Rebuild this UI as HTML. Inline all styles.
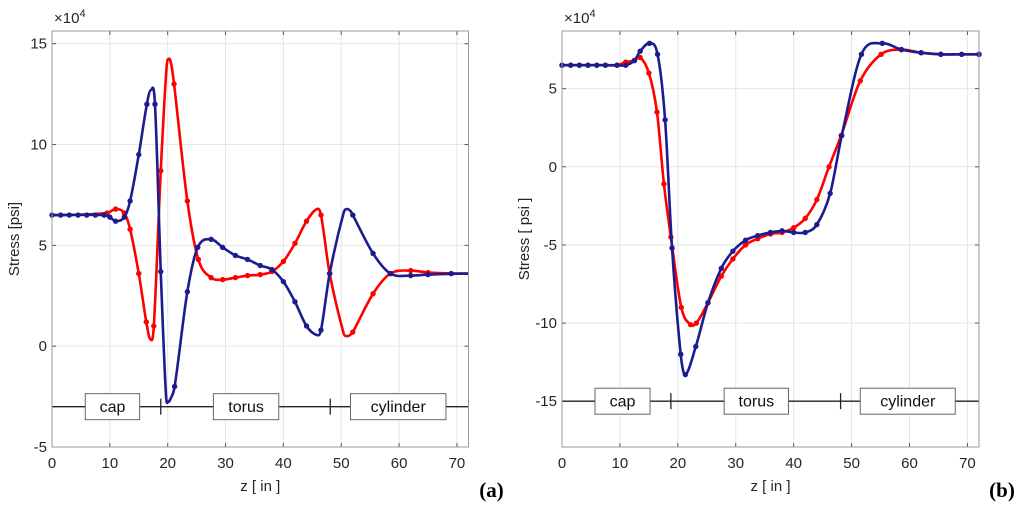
<!DOCTYPE html>
<html><head><meta charset="utf-8"><style>
body{margin:0;background:#fff;width:1024px;height:514px;overflow:hidden}
svg{font-family:"Liberation Sans",sans-serif}
</style></head><body>
<svg id="s" width="1024" height="514"></svg>
<script>
// ---- data (stress ×10^4 psi vs z in) ----
// marker samples
const aBlueX=[0,1.5,3,4.5,6,7.5,9,10,11,12.5,13.5,15,16.4,17.8,18.8,21.2,23.4,25.2,27.5,29.5,31.7,33.8,36,38,40,42,44,46.5,48,52,55.5,58.5,62,65,69];
const aBlueY=[6.5,6.5,6.5,6.5,6.5,6.5,6.5,6.4,6.2,6.4,7.2,9.5,12,12,3.7,-2,2.7,4.9,5.3,4.9,4.5,4.3,4.0,3.8,3.2,2.2,1.0,0.8,3.6,6.5,4.6,3.6,3.5,3.55,3.6];
const aRedX=[9.5,11,12.5,13.5,15,16.3,17.6,18.8,21.1,23.4,25.3,27.5,29.5,31.7,33.8,36,38,40,42,44,46.5,48,52,55.5,58.5,62,65];
const aRedY=[6.6,6.8,6.6,5.8,3.6,1.2,1.0,8.7,13.0,7.2,4.3,3.4,3.3,3.4,3.5,3.55,3.7,4.2,5.1,6.2,6.5,3.6,0.7,2.6,3.6,3.75,3.65];
// curve knots
const aBlueCX=[0,9,10,11,12.5,13.5,15,16.4,17.1,17.8,18.8,19.7,20.1,20.5,21.2,23.4,25.2,27.5,29.5,31.7,33.8,36,38,40,42,44,45.8,46.5,48,50.4,51,51.6,52,55.5,58.5,62,65,72];
const aBlueCY=[6.5,6.5,6.4,6.2,6.4,7.2,9.5,12,12.7,12,3.7,-2.4,-2.75,-2.6,-2,2.7,4.9,5.3,4.9,4.5,4.3,4.0,3.8,3.2,2.2,1.0,0.55,0.8,3.6,6.6,6.8,6.7,6.5,4.6,3.6,3.5,3.55,3.6];
const aRedCX=[0,9.5,11,12.5,13.5,15,16.3,17.0,17.6,18.8,19.8,20.2,20.6,21.1,23.4,25.3,27.5,29.5,31.7,33.8,36,38,40,42,44,45.8,46.5,48,50.4,50.9,51.5,52,55.5,58.5,62,65,72];
const aRedCY=[6.5,6.6,6.8,6.6,5.8,3.6,1.2,0.35,1.0,8.7,13.8,14.25,14.0,13.0,7.2,4.3,3.4,3.3,3.4,3.5,3.55,3.7,4.2,5.1,6.2,6.8,6.5,3.6,0.65,0.5,0.55,0.7,2.6,3.6,3.75,3.65,3.6];
const bBlueX=[0,1.5,3,4.5,6,7.5,9.5,11,12.5,13.5,15.1,16.5,17.8,19,20.5,21.3,23.1,25.2,27.5,29.5,31.7,33.8,36,38,40,42,44,46.3,48.3,51.7,55.3,58.6,62,65.4,69,72];
const bBlueY=[6.5,6.5,6.5,6.5,6.5,6.5,6.5,6.5,6.8,7.4,7.9,7.2,3,-5.2,-12,-13.3,-11.5,-8.7,-6.5,-5.4,-4.7,-4.4,-4.2,-4.1,-4.2,-4.2,-3.7,-1.7,2,7.2,7.9,7.5,7.3,7.2,7.2,7.2];
const bRedX=[0,1.5,3,4.5,6,7.5,9.5,11,12.5,13.5,15,16.4,17.6,18.8,20.6,22.2,23.2,25.2,27.5,29.5,31.7,33.8,36,38,40,42,44,46.1,48.2,51.5,55.1,58.6,62,65.4,72];
const bRedY=[6.5,6.5,6.5,6.5,6.5,6.5,6.5,6.7,6.8,7.0,6.0,3.5,-1.1,-4.5,-9.0,-10.1,-10,-8.7,-7.0,-5.9,-5.0,-4.6,-4.3,-4.2,-3.9,-3.3,-2.1,0,2,5.5,7.2,7.5,7.3,7.2,7.2];
const xTicks=[0,10,20,30,40,50,60,70];
const aYTicks=[-5,0,5,10,15];
const bYTicks=[-15,-10,-5,0,5];
const segLabels=["cap","torus","cylinder"];
const aSegX=[[5.76,15.15],[27.9,39.2],[51.6,68.1]];
const bSegX=[[5.7,15.2],[28,39.1],[51.5,67.9]];
const segTicks=[18.8,48.1];

const S=document.getElementById('s');const NS='http://www.w3.org/2000/svg';
function mk(t,a,p){const e=document.createElementNS(NS,t);for(const k in a)e.setAttribute(k,a[k]);(p||S).appendChild(e);return e;}
function curve(xs,ys,X,Y){const n=xs.length,m=[];
 for(let i=0;i<n;i++){if(i==0||i==n-1)m.push(0);else m.push((ys[i+1]-ys[i-1])/(xs[i+1]-xs[i-1]));}
 let d='M'+X(xs[0]).toFixed(2)+','+Y(ys[0]).toFixed(2);
 for(let i=0;i<n-1;i++){const h=xs[i+1]-xs[i];
  d+=' C'+X(xs[i]+h/3).toFixed(2)+','+Y(ys[i]+m[i]*h/3).toFixed(2)+' '+X(xs[i+1]-h/3).toFixed(2)+','+Y(ys[i+1]-m[i+1]*h/3).toFixed(2)+' '+X(xs[i+1]).toFixed(2)+','+Y(ys[i+1]).toFixed(2);}
 return d;}
function panel(o){
 const g=mk('g',{});
 const X=v=>o.l+(v-0)/(72-0)*(o.r-o.l);const Y=v=>o.b-(v-o.ymin)/(o.ymax-o.ymin)*(o.b-o.t);
 xTicks.forEach(v=>{const l=mk('line',{x1:X(v),x2:X(v),y1:o.t,y2:o.b,stroke:'#e6e6e6','stroke-width':1},g);
  mk('line',{x1:X(v),x2:X(v),y1:o.b,y2:o.b-4,stroke:'#555'},g);mk('line',{x1:X(v),x2:X(v),y1:o.t,y2:o.t+4,stroke:'#555'},g);
  const t=mk('text',{x:X(v),y:o.b+21,'font-size':15,'text-anchor':'middle',fill:'#262626'},g);t.textContent=v;});
 o.yt.forEach(v=>{const l=mk('line',{x1:o.l,x2:o.r,y1:Y(v),y2:Y(v),stroke:'#e6e6e6'},g);
  mk('line',{x1:o.l,x2:o.l+4,y1:Y(v),y2:Y(v),stroke:'#555'},g);mk('line',{x1:o.r,x2:o.r-4,y1:Y(v),y2:Y(v),stroke:'#555'},g);
  const t=mk('text',{x:o.l-5,y:Y(v)+5,'font-size':15,'text-anchor':'end',fill:'#262626'},g);t.textContent=v;});
 const sy=Y(o.segY);
 const sl=mk('line',{x1:o.l,x2:o.r,y1:sy,y2:sy,stroke:'#222','stroke-width':1.3},g);
 segTicks.forEach(v=>mk('line',{x1:X(v),x2:X(v),y1:sy-8,y2:sy+8,stroke:'#222','stroke-width':1.3},g));
 [[o.rcx,o.rcy,o.rx,o.ry,'#ff0000','red-series'],[o.bcx,o.bcy,o.bx,o.by,'#1c1c8f','blue-series']].forEach(([cx,cy,xs,ys,c,n])=>{
  const p=mk('path',{d:curve(cx,cy,X,Y),fill:'none',stroke:c,'stroke-width':2.6},g);
  xs.forEach((x,i)=>{const m=mk('circle',{cx:X(x),cy:Y(ys[i]),r:2.7,fill:c},g);});});
 segLabels.forEach((s,i)=>{const x0=X(o.seg[i][0]),x1=X(o.seg[i][1]);
  const r=mk('rect',{x:x0,y:sy-13,width:x1-x0,height:26,fill:'#fff',stroke:'#666'},g);
  const t=mk('text',{x:(x0+x1)/2,y:sy+5.5,'font-size':16,'text-anchor':'middle',fill:'#111'},g);t.textContent=s;});
 mk('rect',{x:o.l,y:o.t,width:o.r-o.l,height:o.b-o.t,fill:'none',stroke:'#999','stroke-width':1},g);
 const e=mk('text',{x:o.l+2,y:o.t-8,'font-size':15,fill:'#262626'},g);e.innerHTML='×10<tspan dy="-6" font-size="11">4</tspan>';
 const yl=mk('text',{x:0,y:0,'font-size':15,'text-anchor':'middle',fill:'#262626',transform:`translate(${o.l-33},${(o.t+o.b)/2}) rotate(-90)`},g);yl.textContent=o.ylab;
 const xl=mk('text',{x:(o.l+o.r)/2,y:o.b+44,'font-size':15,'text-anchor':'middle',fill:'#262626'},g);xl.textContent='z [ in ]';
 const pl=mk('text',{x:o.r+23,y:o.b+50,'font-size':21,'font-weight':'bold','text-anchor':'middle',fill:'#000','font-family':'Liberation Serif, serif'},g);pl.textContent=o.tag;
}
panel({name:'panel-a',l:52,r:468.5,t:31,b:447,ymin:-5,ymax:15.63,yt:aYTicks,bx:aBlueX,by:aBlueY,rx:aRedX,ry:aRedY,bcx:aBlueCX,bcy:aBlueCY,rcx:aRedCX,rcy:aRedCY,seg:aSegX,segY:-3,ylab:'Stress [psi]',tag:'(a)'});
panel({name:'panel-b',l:562,r:979,t:31,b:447,ymin:-17.93,ymax:8.69,yt:bYTicks,bx:bBlueX,by:bBlueY,rx:bRedX,ry:bRedY,bcx:bBlueX,bcy:bBlueY,rcx:bRedX,rcy:bRedY,seg:bSegX,segY:-15,ylab:'Stress [ psi ]',tag:'(b)'});
</script>
</body></html>
